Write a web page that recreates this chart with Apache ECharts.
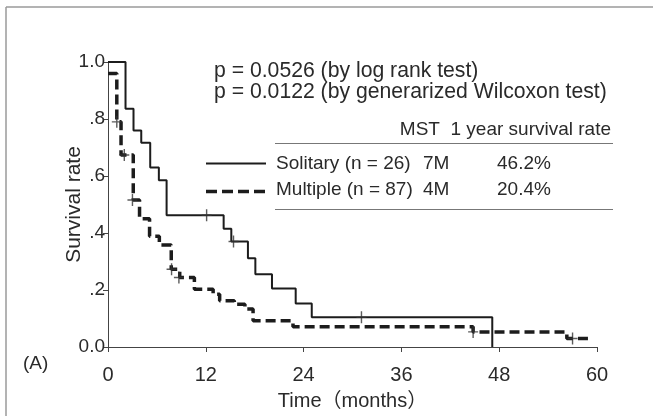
<!DOCTYPE html>
<html>
<head>
<meta charset="utf-8">
<script src="https://cdn.jsdelivr.net/npm/echarts/dist/echarts.min.js"></script>
<style>
  html, body { margin: 0; padding: 0; background: #fff; }
  #chart { width: 653px; height: 416px; }
</style>
</head>
<body>
<div id="chart"></div>
<script>
// Kaplan-Meier curves, times in months
const soloTimes = [0, 2.15, 3.13, 4.08, 5.18, 6.24, 7.19, 14.19, 15.13, 17.17, 18.08, 20.12, 23.03, 25.0, 47.15]
const soloSurv = [1.0, 0.836, 0.76, 0.717, 0.63, 0.585, 0.462, 0.415, 0.37, 0.311, 0.255, 0.205, 0.153, 0.104, 0]
const multiTimes = [0, 1.08, 1.6, 3.1, 3.87, 5.1, 6.3, 7.76, 8.8, 10.6, 12.9, 13.7, 15.5, 16.8, 17.8, 22.7, 44.8, 56.3, 59.4]
const multiSurv = [0.96, 0.79, 0.674, 0.516, 0.45, 0.389, 0.358, 0.273, 0.244, 0.203, 0.185, 0.162, 0.15, 0.133, 0.092, 0.071, 0.053, 0.03, 0.03]

// censored cases (+)
const soloCensorT = [12.1, 15.4, 31.1]
const soloCensorS = [0.462, 0.37, 0.104]
const multiCensorT = [1.08, 2.0, 3.0, 7.8, 8.7, 44.8, 57.0]
const multiCensorS = [0.79, 0.674, 0.516, 0.273, 0.244, 0.053, 0.03]

const xTickLabels = ['0', '12', '24', '36', '48', '60']
const yTickLabels = ['0.0', '.2', '.4', '.6', '.8', '1.0']

const pLines = ['p = 0.0526 (by log rank test)', 'p = 0.0122 (by generarized Wilcoxon test)']
const tableHead = 'MST  1 year survival rate'
const groupNames = ['Solitary (n = 26)', 'Multiple (n = 87)']
const groupMST = ['7M', '4M']
const groupRate = ['46.2%', '20.4%']

const FONT = '"Liberation Sans", Arial, "Noto Sans CJK JP", sans-serif'
const INK = '#1c1c1c'
const TXT = '#2a2a2a'
const plusPath = 'path://M4.3,0H5.7V10H4.3ZM0,4.4H10V5.6H0Z'

const zip = ( a, b ) => a.map( ( v, i ) => [v, b[i]] )

const txt = ( text, x, y, size, align ) => ( {
  type : 'text',
  x,
  y,
  style : {
    text,
    fill : TXT,
    fontSize : size,
    fontFamily : FONT,
    align : align || 'left',
    verticalAlign : 'middle'
  }
} )

const hline = ( x1, x2, y, color, width, dash ) => ( {
  type : 'line',
  shape : { x1, y1 : y, x2, y2 : y },
  style : { stroke : color, lineWidth : width, lineDash : dash || null }
} )

const chart = echarts.init( document.getElementById( 'chart' ) )

chart.setOption( {
  backgroundColor : '#fff',
  animation : false,
  grid : {
    left : 108,
    top : 62,
    right : 56,
    bottom : 68
  },
  xAxis : {
    type : 'value',
    min : 0,
    max : 60,
    interval : 12,
    name : 'Time（months）',
    nameLocation : 'middle',
    nameGap : 44,
    nameMoveOverlap : false,
    nameTextStyle : { color : TXT, fontSize : 20, fontFamily : FONT },
    axisLine : { lineStyle : { color : '#444', width : 1 } },
    axisTick : { length : 5, lineStyle : { color : '#444' } },
    axisLabel : {
      color : TXT,
      fontSize : 20,
      fontFamily : FONT,
      margin : 18,
      formatter : v => xTickLabels[Math.round( v / 12 )]
    },
    splitLine : { show : false }
  },
  yAxis : {
    type : 'value',
    min : 0,
    max : 1,
    interval : 0.2,
    name : 'Survival rate',
    nameLocation : 'middle',
    nameGap : 23,
    nameMoveOverlap : false,
    nameTextStyle : { color : TXT, fontSize : 21, fontFamily : FONT },
    axisLine : { show : true, lineStyle : { color : '#444', width : 1 } },
    axisTick : { show : true, length : 5, lineStyle : { color : '#444' } },
    axisLabel : {
      color : TXT,
      fontSize : 19,
      fontFamily : FONT,
      margin : 3,
      formatter : v => yTickLabels[Math.round( v / 0.2 )]
    },
    splitLine : { show : false }
  },
  series : [
    {
      name : 'Solitary',
      type : 'line',
      step : 'end',
      data : zip( soloTimes, soloSurv ),
      showSymbol : false,
      lineStyle : { color : INK, width : 2 },
      z : 3
    },
    {
      name : 'Multiple',
      type : 'line',
      step : 'end',
      data : zip( multiTimes, multiSurv ),
      showSymbol : false,
      lineStyle : { color : INK, width : 3.5, type : [10, 5] },
      z : 2
    },
    {
      name : 'Solitary censored',
      type : 'scatter',
      data : zip( soloCensorT, soloCensorS ),
      symbol : plusPath,
      symbolSize : [10, 12],
      itemStyle : { color : '#333' },
      z : 4
    },
    {
      name : 'Multiple censored',
      type : 'scatter',
      data : zip( multiCensorT, multiCensorS ),
      symbol : plusPath,
      symbolSize : [10, 12],
      itemStyle : { color : '#333' },
      z : 4
    }
  ],
  graphic : [
    // scanned frame (top + left)
    hline( 6, 653, 7, '#9a9a9a', 1.5 ),
    {
      type : 'line',
      shape : { x1 : 6, y1 : 7, x2 : 6, y2 : 416 },
      style : { stroke : '#9a9a9a', lineWidth : 1.5 }
    },
    txt( pLines[0], 214, 71, 21.2 ),
    txt( pLines[1], 214, 92, 21.2 ),
    txt( tableHead, 611, 130, 19, 'right' ),
    hline( 275, 613, 143.5, '#777', 1 ),
    hline( 206, 266, 163.5, INK, 2 ),
    hline( 206, 266, 191.5, INK, 3.5, [11, 5] ),
    txt( groupNames[0], 276, 164, 19 ),
    txt( groupNames[1], 276, 190, 19 ),
    txt( groupMST[0], 423, 164, 19 ),
    txt( groupMST[1], 423, 190, 19 ),
    txt( groupRate[0], 497, 164, 19 ),
    txt( groupRate[1], 497, 190, 19 ),
    hline( 275, 613, 209.5, '#777', 1 ),
    txt( '(A)', 23, 364, 19 )
  ]
} )
</script>
</body>
</html>
